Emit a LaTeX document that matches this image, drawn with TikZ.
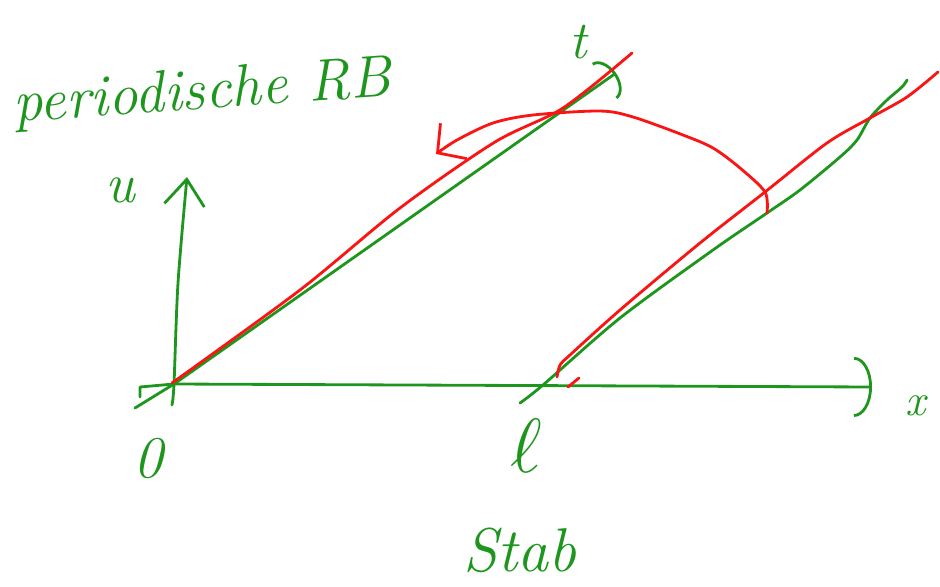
\documentclass[tikz,border=0pt]{standalone}
\usepackage{xcolor}
\usepackage{tikz}
\usetikzlibrary{arrows.meta, calc}
\definecolor{inkgreen}{RGB}{30,150,30}
\definecolor{inkred}{RGB}{250,20,20}

\begin{document}
\begin{tikzpicture}[
    x=0.025cm, y=-0.025cm,
    gline/.style={draw=inkgreen, line width=2pt, line cap=round, line join=round},
    rline/.style={draw=inkred, line width=2pt, line cap=round, line join=round},
    every node/.style={text=inkgreen, font=\fontsize{32}{38}\selectfont\itshape, inner sep=0pt}
]
    \useasboundingbox (0,0) rectangle (940,586);

    \coordinate (O) at (174,384);
    \coordinate (L) at (543,385);
    \coordinate (xend) at (872,387);
    \coordinate (uend) at (187,177);
    \coordinate (tend) at (616,73);
    \coordinate (rend) at (907,80);

    \node[rotate=4, font=\fontsize{42}{48}\selectfont\itshape] (rb) at (202,94) {periodische RB};
    \node[font=\fontsize{40}{46}\selectfont\itshape] (u) at (120,190) {u};
    \node[font=\fontsize{38}{44}\selectfont\itshape] (t) at (578,42) {t};
    \node (x) at (916,406) {x};
    \node[font=\fontsize{42}{48}\selectfont\itshape] (o) at (148,458) {0};
    \node[scale=2.2] (l) at (526,446) {$\ell$};
    \node[font=\fontsize{44}{50}\selectfont\itshape] (stab) at (520,550) {Stab};

    \draw[gline, -{Arc Barb[length=0.45cm, width=1.5cm]}] (140,397) -- (140,387) -- (O) -- (xend);
    \draw[gline, -{Straight Barb[length=0.65cm, width=1cm]}] plot[smooth] coordinates {(172,405) (O) (178,283) (uend)};
    \draw[gline, -{Arc Barb[length=0.35cm, width=1.1cm]}] (135,408) -- (O) -- (tend);
    \draw[gline] plot[smooth] coordinates {(520,403) (L) (620,318) (713,250) (767,213) (800,190) (840,157) (857,140) (870,118) (887,100) (902,87) (rend)};

    \draw[rline] plot[smooth] coordinates {(172,383) (300,290) (400,208) (495,142) (563,108) (632,53)};
    \draw[rline] plot[smooth] coordinates {(557,377) (560,365) (570,355) (620,310) (700,243) (765,192) (827,143) (870,118) (907,97) (938,72)};
    \draw[rline] (568,387) -- (579,378);
    \draw[rline, -{Straight Barb[length=0.5cm, width=1.1cm]}] plot[smooth] coordinates {(767,213) (765,192) (740,168) (713,148) (683,135) (633,117) (600,111) (533,115) (493,123) (457,140) (436,154)};
\end{tikzpicture}
\end{document}
